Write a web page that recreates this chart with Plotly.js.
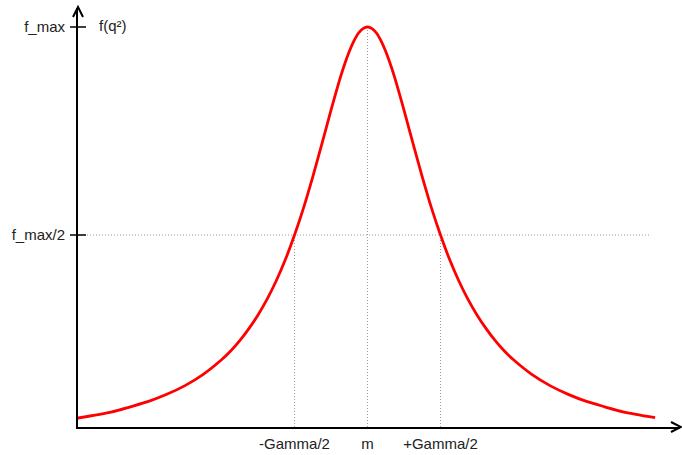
<!DOCTYPE html>
<html>
<head>
<meta charset="utf-8">
<script src="https://cdn.plot.ly/plotly-3.0.1.min.js"></script>
<style>
  html, body { margin: 0; padding: 0; background: #ffffff; }
  #chart { width: 682px; height: 455px; }
</style>
</head>
<body>
<div id="chart"></div>
<script>
// Resonance curve f(q²): x in units of Gamma/2 around the mass m, y in units of f_max
const curveX = [-3.97, -3.5, -3.25, -3, -2.75, -2.5, -2.25, -2, -1.875, -1.75, -1.625, -1.5, -1.375, -1.25, -1.125,
                -1, -0.875, -0.75, -0.625, -0.5, -0.4375, -0.375, -0.3125, -0.25, -0.1875, -0.125, -0.0625,
                0, 0.0625, 0.125, 0.1875, 0.25, 0.3125, 0.375, 0.4375, 0.5, 0.625, 0.75, 0.875,
                1, 1.125, 1.25, 1.375, 1.5, 1.625, 1.75, 1.875, 2, 2.25, 2.5, 2.75, 3, 3.25, 3.5, 3.94];
const curveY = [0.060, 0.075, 0.087, 0.100, 0.117, 0.138, 0.165, 0.200, 0.221, 0.246, 0.275, 0.308, 0.346, 0.390, 0.441,
                0.500, 0.566, 0.640, 0.719, 0.800, 0.839, 0.877, 0.911, 0.941, 0.966, 0.985, 0.996,
                1.000, 0.996, 0.985, 0.966, 0.941, 0.911, 0.877, 0.839, 0.800, 0.719, 0.640, 0.566,
                0.500, 0.441, 0.390, 0.346, 0.308, 0.275, 0.246, 0.221, 0.200, 0.165, 0.138, 0.117, 0.100, 0.087, 0.075, 0.061];

// Axis ticks
const xTickVals = [-1, 0, 1];
const xTickText = ['-Gamma/2', 'm', '+Gamma/2'];
const xTickHeights = [0.5, 1, 0.5];   // curve height reached by each vertical guide
const yTickVals = [0.5, 1];
const yTickText = ['f_max/2', 'f_max'];
const yAxisTitle = 'f(q²)';
const halfMaxLineEnd = 3.87;          // right end of the dotted half-maximum guide

const xRange = [-3.966, 4.281];
const yRange = [0.0385, 1.0457];

const textFont = { family: 'Liberation Sans, Arial, sans-serif', size: 15, color: '#222222' };
const guide = { color: '#9a9a9a', width: 1, dash: '1px,2px' };

const shapes = [];

// dotted vertical guides from the x axis up to the curve
xTickVals.forEach((xv, i) => {
  shapes.push({ type: 'line', layer: 'below', xref: 'x', yref: 'y',
    x0: xv, x1: xv, y0: yRange[0], y1: xTickHeights[i], line: guide });
});
// dotted horizontal guide at half maximum
shapes.push({ type: 'line', layer: 'below', xref: 'x', yref: 'y',
  x0: xRange[0], x1: halfMaxLineEnd, y0: yTickVals[0], y1: yTickVals[0], line: guide });

// tick marks crossing the y axis
yTickVals.forEach(yv => {
  shapes.push({ type: 'line', xref: 'paper', xsizemode: 'pixel', xanchor: 0,
    x0: -8, x1: 8, yref: 'y', y0: yv, y1: yv, line: { color: '#000000', width: 1.5 } });
});

// open arrowheads at the ends of both axes
shapes.push({ type: 'path', xref: 'paper', yref: 'paper',
  xsizemode: 'pixel', ysizemode: 'pixel', xanchor: 0, yanchor: 1,
  path: 'M -5,-9 L 0,1 L 5,-9', line: { color: '#000000', width: 2 } });
shapes.push({ type: 'path', xref: 'paper', yref: 'paper',
  xsizemode: 'pixel', ysizemode: 'pixel', xanchor: 1, yanchor: 0,
  path: 'M -9,5 L 1,0 L -9,-5', line: { color: '#000000', width: 2 } });

const trace = {
  x: curveX, y: curveY,
  type: 'scatter', mode: 'lines',
  line: { color: '#ff0000', width: 2.8, shape: 'spline', smoothing: 0.8 },
  hoverinfo: 'skip', showlegend: false
};

const layout = {
  width: 682, height: 455,
  margin: { l: 78, r: 2, t: 8, b: 28, pad: 0 },
  paper_bgcolor: '#ffffff', plot_bgcolor: '#ffffff',
  showlegend: false,
  font: textFont,
  xaxis: {
    range: xRange, showgrid: false, zeroline: false,
    showline: true, linecolor: '#000000', linewidth: 2,
    tickvals: xTickVals, ticktext: xTickText,
    ticks: 'outside', ticklen: 2, tickcolor: 'rgba(0,0,0,0)',
    tickfont: textFont, fixedrange: true
  },
  yaxis: {
    range: yRange, showgrid: false, zeroline: false,
    showline: true, linecolor: '#000000', linewidth: 2,
    tickvals: yTickVals, ticktext: yTickText,
    ticks: 'outside', ticklen: 8, tickcolor: 'rgba(0,0,0,0)',
    tickfont: textFont, fixedrange: true
  },
  shapes: shapes,
  annotations: [{
    text: yAxisTitle, xref: 'paper', yref: 'y', x: 0, y: yTickVals[1],
    xanchor: 'left', yanchor: 'middle', xshift: 19, yshift: 2,
    showarrow: false, font: textFont
  }]
};

Plotly.newPlot('chart', [trace], layout, { staticPlot: true, displayModeBar: false });
</script>
</body>
</html>
